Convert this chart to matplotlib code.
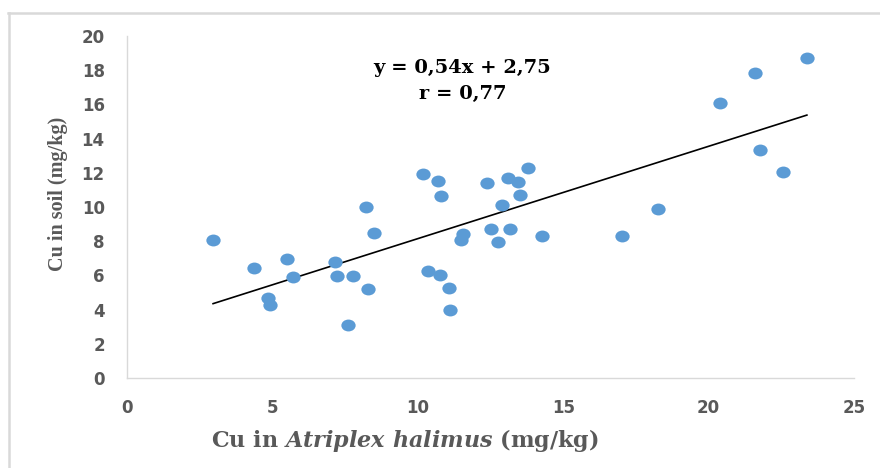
import matplotlib

matplotlib.use("Agg")
import matplotlib.pyplot as plt
import numpy as np
from matplotlib.lines import Line2D
from matplotlib.markers import MarkerStyle
from matplotlib.path import Path
from matplotlib.transforms import Affine2D

# Cu in Atriplex halimus (mg/kg) vs Cu in soil (mg/kg)
cu_plant = [2.96, 4.37, 5.50, 5.71, 4.85, 4.92, 7.15, 7.22, 7.77, 7.60,
            8.22, 8.49, 8.29, 10.18, 10.69, 10.80, 10.35, 10.76, 11.07, 11.11,
            11.49, 11.55, 12.38, 12.52, 12.76, 12.90, 13.10, 13.45, 13.51, 13.17,
            13.79, 14.27, 17.02, 18.26, 20.39, 21.60, 21.77, 22.56, 23.38]
cu_soil = [8.07, 6.45, 6.96, 5.88, 4.68, 4.25, 6.78, 5.96, 5.99, 3.08,
           10.00, 8.46, 5.20, 11.93, 11.52, 10.62, 6.28, 6.00, 5.24, 4.00,
           8.05, 8.40, 11.42, 8.70, 7.96, 10.10, 11.70, 11.44, 10.68, 8.74,
           12.28, 8.32, 8.28, 9.88, 16.08, 17.84, 13.33, 12.05, 18.71]
slope = 0.54
intercept = 2.75
eq_text = "y = 0,54x + 2,75"
r_text = "r = 0,77"
xticks = [0, 5, 10, 15, 20, 25]
yticks = [0, 2, 4, 6, 8, 10, 12, 14, 16, 18, 20]

plt.rcParams["mathtext.fontset"] = "custom"
plt.rcParams["mathtext.rm"] = "DejaVu Serif:bold"
plt.rcParams["mathtext.it"] = "DejaVu Serif:italic:bold"

BLUE = "#5B9BD5"
GREY = "#595959"
SPINE = "#D9D9D9"

fig = plt.figure(figsize=(8.8, 4.68), dpi=100)
ax = fig.add_axes([127 / 880, 1 - 378 / 468, 727 / 880, 342 / 468])

# page frame (left and top edges visible)
fig.add_artist(Line2D([8.5 / 880, 8.5 / 880], [0, 1 - 13 / 468], transform=fig.transFigure,
                      color=SPINE, lw=1.8))
fig.add_artist(Line2D([8 / 880, 1], [1 - 13 / 468, 1 - 13 / 468], transform=fig.transFigure,
                      color=SPINE, lw=1.8))

# slightly flattened circle marker, as in the source
ell = Path.unit_circle().transformed(Affine2D().scale(1.0, 0.83))
ax.scatter(cu_plant, cu_soil, s=10.3 ** 2, marker=MarkerStyle(ell), color=BLUE,
           linewidths=0, zorder=3)

xs = np.array([min(cu_plant), max(cu_plant)])
ax.plot(xs, slope * xs + intercept, color="black", lw=1.2, zorder=2)

ax.text(11.52, 18.1, eq_text, ha="center", va="center", fontsize=14,
        family="DejaVu Serif", weight="bold", color="black")
ax.text(11.55, 16.62, r_text, ha="center", va="center", fontsize=14,
        family="DejaVu Serif", weight="bold", color="black")

ax.set_xlim(0, 25)
ax.set_ylim(0, 20)
ax.set_xticks(xticks)
ax.set_yticks(yticks)
ax.tick_params(length=0, labelsize=12, labelcolor=GREY)
ax.tick_params(axis="y", pad=16)
ax.tick_params(axis="x", pad=15)
for lab in ax.get_xticklabels() + ax.get_yticklabels():
    lab.set_fontweight("bold")
    lab.set_family("DejaVu Sans")

for side in ["top", "right"]:
    ax.spines[side].set_visible(False)
for side in ["left", "bottom"]:
    ax.spines[side].set_color(SPINE)
    ax.spines[side].set_linewidth(1.0)

ax.set_xlabel(r"Cu in $\mathit{Atriplex\ halimus}$ (mg/kg)", fontsize=16,
              family="DejaVu Serif", weight="bold", color=GREY, va="center")
ax.xaxis.set_label_coords((405 - 127) / 727, (378 - 440) / 342)
ax.set_ylabel("Cu in soil (mg/kg)", fontsize=14.5, family="Liberation Serif",
              weight="bold", color=GREY, va="center", ha="center")
ax.yaxis.set_label_coords((58 - 127) / 727, (378 - 194) / 342)

fig.savefig("out.png", dpi=100)
